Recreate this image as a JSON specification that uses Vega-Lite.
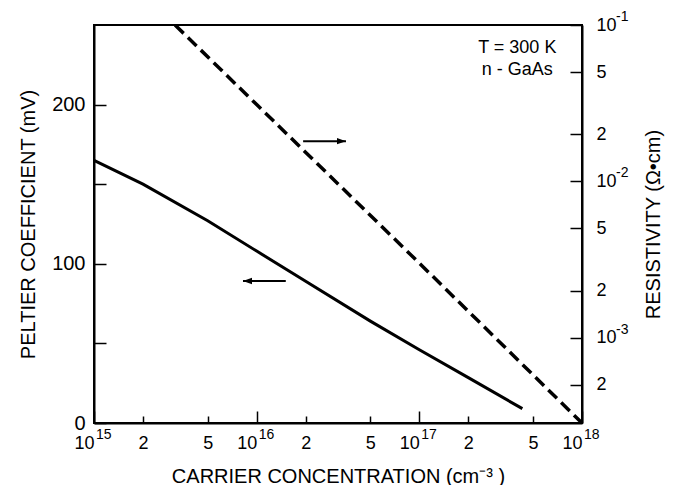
{
  "$schema": "https://vega.github.io/schema/vega-lite/v6.json",
  "width": 488,
  "height": 398,
  "autosize": {"type": "none"},
  "padding": {"left": 94, "top": 25, "right": 100, "bottom": 62},
  "background": "white",
  "config": {
    "font": "Liberation Sans",
    "view": {"stroke": "black", "strokeWidth": 2},
    "axis": {
      "grid": false,
      "domainColor": "black",
      "domainWidth": 2,
      "tickColor": "black",
      "tickWidth": 1.5,
      "labelColor": "black",
      "titleColor": "black",
      "labelFont": "Liberation Sans",
      "titleFont": "Liberation Sans",
      "labelFontSize": 18,
      "titleFontSize": 20,
      "titleFontWeight": "normal"
    }
  },
  "datasets": {
    "peltier": [
      {"n": 1e15, "peltier": 165},
      {"n": 2e15, "peltier": 150},
      {"n": 5e15, "peltier": 127},
      {"n": 1e16, "peltier": 108},
      {"n": 2e16, "peltier": 89},
      {"n": 5e16, "peltier": 64},
      {"n": 1e17, "peltier": 46},
      {"n": 2e17, "peltier": 28.5},
      {"n": 4.3e17, "peltier": 9}
    ],
    "resistivity": [
      {"n": 3.15e15, "rho": 0.1},
      {"n": 1e16, "rho": 0.031},
      {"n": 1e17, "rho": 0.003},
      {"n": 1e18, "rho": 0.000285}
    ],
    "arrows": [
      {"arrow": "right", "part": "tail", "n": 1.93e16, "peltier": 177},
      {"arrow": "right", "part": "tip", "n": 3.54e16, "peltier": 177},
      {"arrow": "left", "part": "tail", "n": 1.51e16, "peltier": 89.2},
      {"arrow": "left", "part": "tip", "n": 8.24e15, "peltier": 89.2}
    ],
    "notes": [
      {"n": 4e17, "peltier": 235.5, "text": "T = 300 K"},
      {"n": 4e17, "peltier": 221.7, "text": "n - GaAs"}
    ],
    "xexp": [
      {"n": 1e15, "peltier": 0, "text": "15"},
      {"n": 1e16, "peltier": 0, "text": "16"},
      {"n": 1e17, "peltier": 0, "text": "17"},
      {"n": 1e18, "peltier": 0, "text": "18"}
    ],
    "yexp": [
      {"n": 1e18, "rho": 0.1, "text": "-1"},
      {"n": 1e18, "rho": 0.01, "text": "-2"},
      {"n": 1e18, "rho": 0.001, "text": "-3"}
    ]
  },
  "encoding": {
    "x": {
      "field": "n",
      "type": "quantitative",
      "scale": {"type": "log", "domain": [1e15, 1e18]},
      "axis": {
        "orient": "bottom",
        "title": "CARRIER CONCENTRATION (cm⁻³ )",
        "values": [1e15, 2e15, 5e15, 1e16, 2e16, 5e16, 1e17, 2e17, 5e17, 1e18],
        "labelExpr": "indexof([1e15, 1e16, 1e17, 1e18], datum.value) >= 0 ? '10' : format(datum.value / pow(10, floor(log(datum.value) / LN10)), '.0f')",
        "tickSize": {"condition": {"test": "indexof([1e15, 1e16, 1e17, 1e18], datum.value) >= 0", "value": -12}, "value": -7},
        "labelPadding": {"condition": {"test": "indexof([1e15, 1e16, 1e17, 1e18], datum.value) >= 0", "value": 23}, "value": 18},
        "labelAlign": {"condition": {"test": "indexof([1e15, 1e16, 1e17, 1e18], datum.value) >= 0", "value": "right"}, "value": "center"},
        "labelFlush": false,
        "labelOverlap": false,
        "titlePadding": 14
      }
    }
  },
  "layer": [
    {
      "layer": [
        {
          "data": {"name": "peltier"},
          "mark": {"type": "line", "color": "black", "strokeWidth": 3},
          "encoding": {
            "y": {
              "field": "peltier",
              "type": "quantitative",
              "scale": {"domain": [0, 250]},
              "axis": {
                "orient": "left",
                "title": "PELTIER COEFFICIENT (mV)",
                "values": [0, 50, 100, 150, 200],
                "labelExpr": "datum.value % 100 == 0 ? datum.label : ''",
                "labelFontSize": 20,
                "tickSize": -12,
                "labelPadding": 21,
                "titlePadding": 13
              }
            }
          }
        },
        {
          "data": {"name": "arrows"},
          "mark": {"type": "line", "color": "black", "strokeWidth": 2},
          "encoding": {
            "y": {"field": "peltier", "type": "quantitative", "scale": {"domain": [0, 250]}},
            "detail": {"field": "arrow"}
          }
        },
        {
          "data": {"name": "arrows"},
          "transform": [{"filter": "datum.part == 'tip'"}],
          "mark": {"type": "point", "filled": true, "color": "black", "opacity": 1, "size": 324, "strokeWidth": 0},
          "encoding": {
            "y": {"field": "peltier", "type": "quantitative", "scale": {"domain": [0, 250]}},
            "shape": {
              "field": "arrow",
              "type": "nominal",
              "scale": {"domain": ["right", "left"], "range": ["M 0 0 L -1 -0.35 L -1 0.35 Z", "M 0 0 L 1 -0.35 L 1 0.35 Z"]},
              "legend": null
            }
          }
        },
        {
          "data": {"name": "notes"},
          "mark": {"type": "text", "fontSize": 18, "font": "Liberation Sans", "color": "black"},
          "encoding": {
            "y": {"field": "peltier", "type": "quantitative", "scale": {"domain": [0, 250]}},
            "text": {"field": "text"}
          }
        },
        {
          "data": {"name": "xexp"},
          "mark": {"type": "text", "fontSize": 14, "font": "Liberation Sans", "color": "black", "align": "left", "baseline": "top", "dx": 2, "dy": 5},
          "encoding": {
            "y": {"field": "peltier", "type": "quantitative", "scale": {"domain": [0, 250]}},
            "text": {"field": "text"}
          }
        }
      ]
    },
    {
      "layer": [
        {
          "data": {"name": "resistivity"},
          "mark": {"type": "line", "color": "black", "strokeWidth": 3.5, "strokeDash": [12, 6], "clip": true},
          "encoding": {
            "y": {
              "field": "rho",
              "type": "quantitative",
              "scale": {"type": "log", "domain": [0.000285, 0.1]},
              "axis": {
                "orient": "right",
                "title": "RESISTIVITY (Ω•cm)",
                "titleAngle": 270,
                "values": [0.1, 0.05, 0.02, 0.01, 0.005, 0.002, 0.001, 0.0005],
                "labelExpr": "(datum.value == 0.1 || datum.value == 0.01 || datum.value == 0.001) ? '10' : (datum.value == 0.05 || datum.value == 0.005) ? '5' : '2'",
                "tickSize": -12,
                "labelPadding": 26,
                "labelFlush": false,
                "labelOverlap": false,
                "titlePadding": 47
              }
            }
          }
        },
        {
          "data": {"name": "yexp"},
          "mark": {"type": "text", "fontSize": 14, "font": "Liberation Sans", "color": "black", "align": "left", "baseline": "middle", "dx": 34, "dy": -8},
          "encoding": {
            "y": {"field": "rho", "type": "quantitative", "scale": {"type": "log", "domain": [0.000285, 0.1]}},
            "text": {"field": "text"}
          }
        }
      ]
    }
  ],
  "resolve": {"scale": {"y": "independent"}, "axis": {"y": "independent"}}
}
